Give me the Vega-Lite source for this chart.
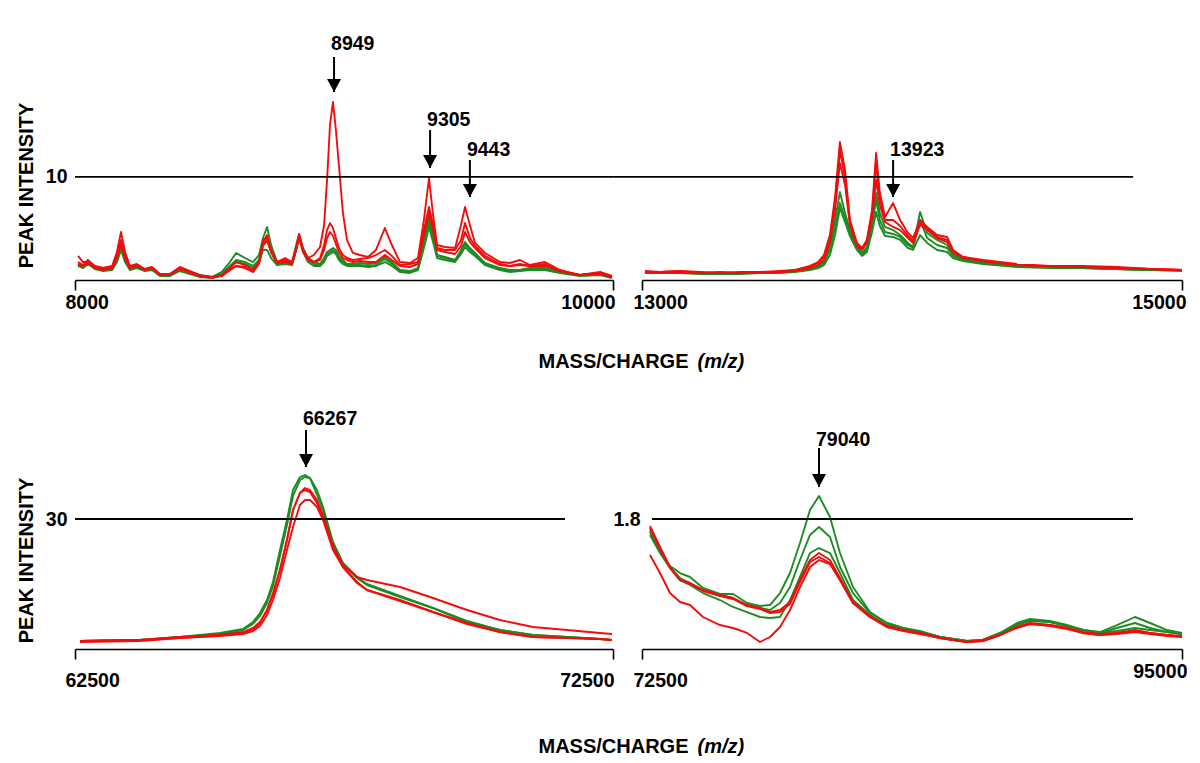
{
"$schema":"https://vega.github.io/schema/vega-lite/v6.json",
"background":"white",
"padding":{"left":16,"top":22,"right":0,"bottom":0},
"autosize":{"type":"pad"},
"columns":2,
"bounds":"flush",
"spacing":{"row":109,"column":29},
"config":{
 "view":{"stroke":null},
 "line":{"strokeWidth":1.9,"strokeJoin":"round"},
 "axis":{"domainColor":"black","domainWidth":1.6,"tickColor":"black","tickWidth":1.6,"labelFont":"Liberation Sans","labelFontWeight":"bold","labelFontSize":19.5,"labelColor":"black","titleFont":"Liberation Sans","titleFontWeight":"bold","titleFontSize":20,"titleColor":"black","grid":false,"labelOverlap":false,"labelFlush":false,"labelBound":false}
},
"datasets":{
"tl":[
{"mz":8011,"g1":1.55,"g2":1.36,"g3":1.45,"r1":1.74,"r2":2.33,"r3":1.45},
{"mz":8030,"g1":1.36,"g2":1.16,"g3":1.26,"r1":1.45,"r2":1.74,"r3":1.36},
{"mz":8048,"g1":1.74,"g2":1.55,"g3":1.65,"r1":1.94,"r2":1.74,"r3":1.65},
{"mz":8074,"g1":1.16,"g2":1.07,"g3":1.16,"r1":1.36,"r2":1.26,"r3":1.16},
{"mz":8104,"g1":0.97,"g2":0.87,"g3":0.97,"r1":1.16,"r2":1.07,"r3":0.97},
{"mz":8138,"g1":1.16,"g2":0.97,"g3":1.07,"r1":1.36,"r2":1.16,"r3":1.16},
{"mz":8156,"g1":2.13,"g2":1.74,"g3":1.94,"r1":2.71,"r2":2.33,"r3":2.13},
{"mz":8171,"g1":3.29,"g2":2.91,"g3":3.10,"r1":4.65,"r2":3.88,"r3":3.49},
{"mz":8186,"g1":2.13,"g2":1.74,"g3":1.94,"r1":2.71,"r2":2.33,"r3":2.13},
{"mz":8204,"g1":1.16,"g2":0.97,"g3":1.07,"r1":1.36,"r2":1.26,"r3":1.16},
{"mz":8230,"g1":1.36,"g2":1.16,"g3":1.26,"r1":1.55,"r2":1.45,"r3":1.36},
{"mz":8260,"g1":0.97,"g2":0.87,"g3":0.97,"r1":1.07,"r2":0.97,"r3":0.97},
{"mz":8286,"g1":1.16,"g2":0.97,"g3":1.07,"r1":1.26,"r2":1.16,"r3":1.16},
{"mz":8316,"g1":0.48,"g2":0.39,"g3":0.48,"r1":0.58,"r2":0.48,"r3":0.48},
{"mz":8353,"g1":0.58,"g2":0.39,"g3":0.48,"r1":0.58,"r2":0.48,"r3":0.58},
{"mz":8390,"g1":1.16,"g2":0.87,"g3":0.97,"r1":1.26,"r2":1.07,"r3":1.07},
{"mz":8428,"g1":0.78,"g2":0.58,"g3":0.68,"r1":0.87,"r2":0.68,"r3":0.78},
{"mz":8465,"g1":0.48,"g2":0.29,"g3":0.39,"r1":0.48,"r2":0.39,"r3":0.39},
{"mz":8509,"g1":0.29,"g2":0.19,"g3":0.29,"r1":0.19,"r2":0.29,"r3":0.29},
{"mz":8546,"g1":0.78,"g2":0.48,"g3":0.58,"r1":0.48,"r2":0.39,"r3":0.39},
{"mz":8576,"g1":1.74,"g2":1.16,"g3":1.36,"r1":1.16,"r2":0.97,"r3":0.97},
{"mz":8599,"g1":2.62,"g2":1.74,"g3":1.94,"r1":1.74,"r2":1.36,"r3":1.36},
{"mz":8632,"g1":2.13,"g2":1.55,"g3":1.74,"r1":1.45,"r2":1.16,"r3":1.26},
{"mz":8662,"g1":1.74,"g2":1.16,"g3":1.36,"r1":0.97,"r2":0.78,"r3":0.78},
{"mz":8684,"g1":2.42,"g2":1.74,"g3":1.94,"r1":1.74,"r2":1.55,"r3":1.74},
{"mz":8699,"g1":4.07,"g2":2.91,"g3":3.49,"r1":3.68,"r2":3.29,"r3":3.88},
{"mz":8714,"g1":5.14,"g2":2.91,"g3":3.88,"r1":4.36,"r2":3.88,"r3":4.07},
{"mz":8729,"g1":3.39,"g2":2.13,"g3":2.71,"r1":2.91,"r2":2.71,"r3":2.71},
{"mz":8751,"g1":1.74,"g2":1.45,"g3":1.55,"r1":1.74,"r2":1.74,"r3":1.65},
{"mz":8781,"g1":1.74,"g2":1.55,"g3":1.65,"r1":2.13,"r2":1.94,"r3":1.74},
{"mz":8807,"g1":1.74,"g2":1.45,"g3":1.65,"r1":1.74,"r2":1.65,"r3":1.55},
{"mz":8822,"g1":3.39,"g2":2.91,"g3":3.10,"r1":3.10,"r2":2.91,"r3":2.91},
{"mz":8833,"g1":4.46,"g2":4.07,"g3":4.26,"r1":4.46,"r2":4.26,"r3":4.07},
{"mz":8848,"g1":3.10,"g2":2.71,"g3":2.91,"r1":2.91,"r2":2.91,"r3":2.71},
{"mz":8866,"g1":2.13,"g2":1.74,"g3":1.94,"r1":2.13,"r2":2.13,"r3":1.94},
{"mz":8888,"g1":1.74,"g2":1.36,"g3":1.55,"r1":2.42,"r2":1.74,"r3":1.74},
{"mz":8911,"g1":1.55,"g2":1.36,"g3":1.45,"r1":3.20,"r2":2.13,"r3":1.94},
{"mz":8926,"g1":2.13,"g2":1.74,"g3":1.94,"r1":5.33,"r2":3.39,"r3":2.91},
{"mz":8937,"g1":2.71,"g2":2.33,"g3":2.52,"r1":9.69,"r2":4.84,"r3":4.07},
{"mz":8948,"g1":2.91,"g2":2.52,"g3":2.71,"r1":15.02,"r2":5.52,"r3":4.65},
{"mz":8959,"g1":3.10,"g2":2.71,"g3":2.91,"r1":17.25,"r2":5.04,"r3":4.26},
{"mz":8970,"g1":2.91,"g2":2.52,"g3":2.71,"r1":14.53,"r2":4.07,"r3":3.49},
{"mz":8981,"g1":2.33,"g2":1.94,"g3":2.13,"r1":11.14,"r2":3.10,"r3":2.71},
{"mz":8996,"g1":1.94,"g2":1.55,"g3":1.74,"r1":6.49,"r2":2.42,"r3":2.13},
{"mz":9011,"g1":1.55,"g2":1.36,"g3":1.45,"r1":3.88,"r2":2.13,"r3":1.94},
{"mz":9033,"g1":1.55,"g2":1.36,"g3":1.45,"r1":2.62,"r2":1.94,"r3":1.74},
{"mz":9059,"g1":1.65,"g2":1.36,"g3":1.45,"r1":2.42,"r2":2.03,"r3":1.84},
{"mz":9089,"g1":1.55,"g2":1.26,"g3":1.36,"r1":2.23,"r2":2.13,"r3":1.74},
{"mz":9119,"g1":1.65,"g2":1.36,"g3":1.45,"r1":2.91,"r2":2.42,"r3":1.74},
{"mz":9152,"g1":2.23,"g2":1.74,"g3":2.03,"r1":5.04,"r2":2.91,"r3":2.42},
{"mz":9178,"g1":1.74,"g2":1.36,"g3":1.55,"r1":3.39,"r2":2.33,"r3":1.94},
{"mz":9208,"g1":0.97,"g2":0.78,"g3":0.87,"r1":1.74,"r2":1.45,"r3":1.36},
{"mz":9245,"g1":0.87,"g2":0.68,"g3":0.78,"r1":1.65,"r2":1.55,"r3":1.26},
{"mz":9275,"g1":1.16,"g2":0.97,"g3":1.07,"r1":2.13,"r2":1.74,"r3":1.55},
{"mz":9297,"g1":3.88,"g2":3.10,"g3":3.49,"r1":5.81,"r2":4.84,"r3":4.36},
{"mz":9316,"g1":6.10,"g2":5.14,"g3":5.62,"r1":9.88,"r2":7.07,"r3":6.49},
{"mz":9331,"g1":4.36,"g2":3.68,"g3":4.07,"r1":6.30,"r2":5.33,"r3":4.84},
{"mz":9346,"g1":2.42,"g2":2.13,"g3":2.33,"r1":3.39,"r2":3.10,"r3":2.91},
{"mz":9375,"g1":2.23,"g2":1.94,"g3":2.13,"r1":3.20,"r2":2.91,"r3":2.71},
{"mz":9413,"g1":1.94,"g2":1.74,"g3":1.84,"r1":3.10,"r2":2.91,"r3":2.52},
{"mz":9435,"g1":2.91,"g2":2.52,"g3":2.71,"r1":5.33,"r2":3.88,"r3":3.29},
{"mz":9450,"g1":3.68,"g2":3.20,"g3":3.49,"r1":7.07,"r2":5.52,"r3":4.65},
{"mz":9468,"g1":3.10,"g2":2.71,"g3":2.91,"r1":5.33,"r2":4.07,"r3":3.68},
{"mz":9487,"g1":2.62,"g2":2.33,"g3":2.52,"r1":3.59,"r2":3.29,"r3":3.10},
{"mz":9524,"g1":1.65,"g2":1.45,"g3":1.55,"r1":2.62,"r2":2.33,"r3":2.13},
{"mz":9580,"g1":1.16,"g2":0.97,"g3":1.07,"r1":1.74,"r2":1.55,"r3":1.45},
{"mz":9617,"g1":0.97,"g2":0.78,"g3":0.87,"r1":1.65,"r2":1.36,"r3":1.36},
{"mz":9654,"g1":0.97,"g2":0.87,"g3":0.97,"r1":1.94,"r2":1.55,"r3":1.45},
{"mz":9691,"g1":1.16,"g2":0.97,"g3":1.07,"r1":1.45,"r2":1.36,"r3":1.36},
{"mz":9747,"g1":1.16,"g2":0.97,"g3":1.07,"r1":1.74,"r2":1.55,"r3":1.36},
{"mz":9803,"g1":0.78,"g2":0.68,"g3":0.78,"r1":0.97,"r2":0.87,"r3":0.87},
{"mz":9877,"g1":0.48,"g2":0.39,"g3":0.48,"r1":0.48,"r2":0.48,"r3":0.48},
{"mz":9952,"g1":0.68,"g2":0.48,"g3":0.58,"r1":0.78,"r2":0.58,"r3":0.68},
{"mz":9996,"g1":0.29,"g2":0.19,"g3":0.29,"r1":0.39,"r2":0.29,"r3":0.29}
],
"tr":[
{"mz":13011,"g1":0.78,"g2":0.68,"g3":0.78,"r1":0.87,"r2":0.78,"r3":0.78},
{"mz":13067,"g1":0.68,"g2":0.68,"g3":0.68,"r1":0.78,"r2":0.68,"r3":0.78},
{"mz":13141,"g1":0.78,"g2":0.68,"g3":0.78,"r1":0.87,"r2":0.78,"r3":0.87},
{"mz":13215,"g1":0.68,"g2":0.58,"g3":0.68,"r1":0.78,"r2":0.68,"r3":0.68},
{"mz":13289,"g1":0.68,"g2":0.58,"g3":0.68,"r1":0.68,"r2":0.68,"r3":0.78},
{"mz":13363,"g1":0.68,"g2":0.58,"g3":0.68,"r1":0.78,"r2":0.68,"r3":0.68},
{"mz":13437,"g1":0.68,"g2":0.68,"g3":0.68,"r1":0.78,"r2":0.78,"r3":0.68},
{"mz":13511,"g1":0.78,"g2":0.68,"g3":0.78,"r1":0.87,"r2":0.78,"r3":0.78},
{"mz":13567,"g1":0.87,"g2":0.78,"g3":0.87,"r1":0.97,"r2":0.97,"r3":0.87},
{"mz":13622,"g1":1.07,"g2":0.97,"g3":1.07,"r1":1.36,"r2":1.26,"r3":1.16},
{"mz":13652,"g1":1.36,"g2":1.16,"g3":1.26,"r1":1.74,"r2":1.65,"r3":1.45},
{"mz":13674,"g1":1.74,"g2":1.45,"g3":1.65,"r1":2.42,"r2":2.23,"r3":1.94},
{"mz":13696,"g1":3.20,"g2":2.42,"g3":2.91,"r1":4.36,"r2":3.88,"r3":3.68},
{"mz":13715,"g1":5.81,"g2":4.36,"g3":5.04,"r1":8.04,"r2":7.27,"r3":6.78},
{"mz":13733,"g1":8.53,"g2":6.98,"g3":7.46,"r1":13.37,"r2":12.60,"r3":11.34},
{"mz":13752,"g1":6.49,"g2":5.62,"g3":6.01,"r1":10.66,"r2":9.88,"r3":9.21},
{"mz":13770,"g1":4.84,"g2":4.26,"g3":4.55,"r1":5.81,"r2":5.62,"r3":5.33},
{"mz":13796,"g1":3.20,"g2":2.91,"g3":3.10,"r1":3.59,"r2":3.49,"r3":3.29},
{"mz":13815,"g1":2.62,"g2":2.33,"g3":2.42,"r1":3.10,"r2":3.00,"r3":2.91},
{"mz":13833,"g1":3.20,"g2":2.71,"g3":3.00,"r1":3.88,"r2":3.78,"r3":3.59},
{"mz":13852,"g1":5.81,"g2":4.65,"g3":5.23,"r1":6.78,"r2":6.40,"r3":6.01},
{"mz":13867,"g1":8.43,"g2":6.59,"g3":7.75,"r1":12.31,"r2":11.34,"r3":9.69},
{"mz":13881,"g1":6.49,"g2":5.23,"g3":5.81,"r1":8.43,"r2":7.95,"r3":7.27},
{"mz":13900,"g1":5.14,"g2":4.26,"g3":4.65,"r1":6.10,"r2":5.81,"r3":5.62},
{"mz":13930,"g1":4.84,"g2":4.17,"g3":4.46,"r1":7.46,"r2":5.81,"r3":5.14},
{"mz":13956,"g1":4.36,"g2":3.88,"g3":4.17,"r1":5.81,"r2":5.23,"r3":4.84},
{"mz":13985,"g1":3.59,"g2":3.10,"g3":3.39,"r1":4.55,"r2":4.26,"r3":4.07},
{"mz":14004,"g1":3.20,"g2":2.91,"g3":3.10,"r1":4.07,"r2":3.78,"r3":3.59},
{"mz":14030,"g1":6.59,"g2":4.36,"g3":5.81,"r1":5.81,"r2":5.52,"r3":5.33},
{"mz":14056,"g1":4.55,"g2":3.59,"g3":4.07,"r1":5.14,"r2":5.04,"r3":4.84},
{"mz":14093,"g1":3.88,"g2":2.91,"g3":3.39,"r1":4.36,"r2":4.17,"r3":4.07},
{"mz":14130,"g1":3.39,"g2":2.71,"g3":3.10,"r1":4.17,"r2":3.88,"r3":3.68},
{"mz":14152,"g1":2.52,"g2":2.13,"g3":2.33,"r1":2.91,"r2":2.71,"r3":2.71},
{"mz":14189,"g1":2.03,"g2":1.84,"g3":1.94,"r1":2.23,"r2":2.23,"r3":2.13},
{"mz":14263,"g1":1.74,"g2":1.55,"g3":1.65,"r1":1.94,"r2":1.84,"r3":1.84},
{"mz":14389,"g1":1.36,"g2":1.26,"g3":1.36,"r1":1.55,"r2":1.45,"r3":1.45},
{"mz":14511,"g1":1.26,"g2":1.16,"g3":1.26,"r1":1.36,"r2":1.36,"r3":1.36},
{"mz":14633,"g1":1.16,"g2":1.16,"g3":1.16,"r1":1.36,"r2":1.26,"r3":1.26},
{"mz":14759,"g1":1.07,"g2":1.07,"g3":1.07,"r1":1.26,"r2":1.16,"r3":1.16},
{"mz":14881,"g1":0.97,"g2":0.97,"g3":0.97,"r1":1.07,"r2":1.07,"r3":1.07},
{"mz":15000,"g1":0.97,"g2":0.87,"g3":0.97,"r1":0.97,"r2":0.97,"r3":0.97}
],
"bl":[
{"mz":62593,"g1":1.85,"g2":1.85,"r1":1.85,"r2":1.85,"r3":1.62},
{"mz":63708,"g1":2.08,"g2":2.08,"r1":2.08,"r2":2.08,"r3":1.85},
{"mz":64452,"g1":2.77,"g2":2.77,"r1":2.77,"r2":2.54,"r3":2.54},
{"mz":65195,"g1":3.69,"g2":3.46,"r1":3.23,"r2":3.23,"r3":3.0},
{"mz":65623,"g1":4.62,"g2":4.38,"r1":3.92,"r2":3.69,"r3":3.46},
{"mz":65808,"g1":6.23,"g2":5.77,"r1":4.85,"r2":4.38,"r3":4.15},
{"mz":65939,"g1":8.31,"g2":7.62,"r1":6.23,"r2":6.0,"r3":5.31},
{"mz":66069,"g1":11.31,"g2":10.62,"r1":9.0,"r2":9.0,"r3":7.85},
{"mz":66180,"g1":15.46,"g2":14.54,"r1":12.46,"r2":12.92,"r3":11.31},
{"mz":66310,"g1":22.85,"g2":21.46,"r1":18.23,"r2":18.23,"r3":16.38},
{"mz":66440,"g1":29.77,"g2":28.62,"r1":25.15,"r2":25.15,"r3":22.85},
{"mz":66552,"g1":36.69,"g2":35.31,"r1":32.08,"r2":32.08,"r3":28.15},
{"mz":66682,"g1":39.69,"g2":39.0,"r1":36.0,"r2":36.0,"r3":33.23},
{"mz":66775,"g1":40.15,"g2":39.69,"r1":37.15,"r2":36.69,"r3":34.38},
{"mz":66868,"g1":39.46,"g2":39.46,"r1":36.69,"r2":36.23,"r3":34.38},
{"mz":66998,"g1":35.54,"g2":36.69,"r1":34.38,"r2":33.69,"r3":32.77},
{"mz":67110,"g1":32.08,"g2":32.77,"r1":30.92,"r2":30.46,"r3":29.77},
{"mz":67295,"g1":24.0,"g2":24.69,"r1":23.77,"r2":23.31,"r3":22.85},
{"mz":67481,"g1":19.38,"g2":19.85,"r1":19.38,"r2":18.92,"r3":18.92},
{"mz":67742,"g1":16.38,"g2":16.62,"r1":16.62,"r2":15.46,"r3":15.23},
{"mz":67927,"g1":14.77,"g2":15.0,"r1":15.92,"r2":13.62,"r3":13.62},
{"mz":68541,"g1":12.0,"g2":12.23,"r1":14.31,"r2":11.31,"r3":11.08},
{"mz":69154,"g1":9.46,"g2":9.46,"r1":11.77,"r2":8.54,"r3":8.54},
{"mz":69786,"g1":6.23,"g2":6.46,"r1":9.0,"r2":6.0,"r3":5.77},
{"mz":70399,"g1":4.38,"g2":4.38,"r1":6.69,"r2":3.92,"r3":3.92},
{"mz":71013,"g1":3.23,"g2":3.23,"r1":5.08,"r2":2.77,"r3":2.77},
{"mz":71645,"g1":2.77,"g2":2.77,"r1":4.38,"r2":2.54,"r3":2.54},
{"mz":72258,"g1":2.31,"g2":2.31,"r1":3.69,"r2":2.31,"r3":2.31},
{"mz":72481,"g1":2.08,"g2":2.08,"r1":3.46,"r2":2.08,"r3":2.08}
],
"br":[
{"mz":72833,"g1":1.620,"g2":1.648,"g3":1.579,"r1":1.703,"r2":1.675,"r3":1.302},
{"mz":73250,"g1":1.343,"g2":1.371,"g3":1.329,"r1":1.412,"r2":1.385,"r3":1.052},
{"mz":73667,"g1":1.149,"g2":1.135,"g3":1.122,"r1":1.135,"r2":1.122,"r3":0.775},
{"mz":74083,"g1":1.052,"g2":0.983,"g3":0.955,"r1":0.955,"r2":0.955,"r3":0.651},
{"mz":74500,"g1":0.997,"g2":0.914,"g3":0.886,"r1":0.914,"r2":0.900,"r3":0.609},
{"mz":75042,"g1":0.845,"g2":0.817,"g3":0.775,"r1":0.817,"r2":0.803,"r3":0.443},
{"mz":75750,"g1":0.762,"g2":0.748,"g3":0.678,"r1":0.748,"r2":0.734,"r3":0.332},
{"mz":76292,"g1":0.762,"g2":0.706,"g3":0.582,"r1":0.706,"r2":0.692,"r3":0.291},
{"mz":76875,"g1":0.637,"g2":0.609,"g3":0.512,"r1":0.609,"r2":0.595,"r3":0.222},
{"mz":77417,"g1":0.595,"g2":0.568,"g3":0.443,"r1":0.568,"r2":0.554,"r3":0.097},
{"mz":77833,"g1":0.609,"g2":0.540,"g3":0.429,"r1":0.512,"r2":0.498,"r3":0.166},
{"mz":78250,"g1":0.775,"g2":0.637,"g3":0.443,"r1":0.540,"r2":0.512,"r3":0.305},
{"mz":78667,"g1":1.052,"g2":0.858,"g3":0.678,"r1":0.651,"r2":0.623,"r3":0.540},
{"mz":79083,"g1":1.468,"g2":1.232,"g3":0.997,"r1":0.955,"r2":0.928,"r3":0.858},
{"mz":79500,"g1":1.925,"g2":1.579,"g3":1.329,"r1":1.232,"r2":1.205,"r3":1.135},
{"mz":79875,"g1":2.118,"g2":1.689,"g3":1.398,"r1":1.329,"r2":1.274,"r3":1.232},
{"mz":80333,"g1":1.828,"g2":1.551,"g3":1.329,"r1":1.232,"r2":1.191,"r3":1.177},
{"mz":80750,"g1":1.329,"g2":1.135,"g3":1.052,"r1":0.983,"r2":0.955,"r3":0.955},
{"mz":81292,"g1":0.858,"g2":0.775,"g3":0.678,"r1":0.651,"r2":0.637,"r3":0.637},
{"mz":82000,"g1":0.512,"g2":0.498,"g3":0.471,"r1":0.457,"r2":0.443,"r3":0.443},
{"mz":82708,"g1":0.360,"g2":0.360,"g3":0.332,"r1":0.318,"r2":0.305,"r3":0.305},
{"mz":83375,"g1":0.291,"g2":0.291,"g3":0.277,"r1":0.263,"r2":0.263,"r3":0.249},
{"mz":84083,"g1":0.249,"g2":0.235,"g3":0.235,"r1":0.222,"r2":0.222,"r3":0.208},
{"mz":84917,"g1":0.166,"g2":0.166,"g3":0.166,"r1":0.152,"r2":0.152,"r3":0.152},
{"mz":86042,"g1":0.111,"g2":0.111,"g3":0.111,"r1":0.097,"r2":0.097,"r3":0.097},
{"mz":86708,"g1":0.125,"g2":0.125,"g3":0.125,"r1":0.125,"r2":0.111,"r3":0.111},
{"mz":87417,"g1":0.222,"g2":0.222,"g3":0.208,"r1":0.194,"r2":0.194,"r3":0.194},
{"mz":88125,"g1":0.360,"g2":0.346,"g3":0.332,"r1":0.305,"r2":0.305,"r3":0.291},
{"mz":88667,"g1":0.415,"g2":0.402,"g3":0.388,"r1":0.360,"r2":0.346,"r3":0.346},
{"mz":89500,"g1":0.388,"g2":0.374,"g3":0.374,"r1":0.332,"r2":0.332,"r3":0.318},
{"mz":90208,"g1":0.332,"g2":0.318,"g3":0.318,"r1":0.291,"r2":0.291,"r3":0.277},
{"mz":90875,"g1":0.263,"g2":0.263,"g3":0.263,"r1":0.235,"r2":0.222,"r3":0.222},
{"mz":91583,"g1":0.235,"g2":0.222,"g3":0.222,"r1":0.208,"r2":0.194,"r3":0.194},
{"mz":92292,"g1":0.332,"g2":0.291,"g3":0.249,"r1":0.222,"r2":0.222,"r3":0.208},
{"mz":93042,"g1":0.443,"g2":0.360,"g3":0.291,"r1":0.263,"r2":0.249,"r3":0.235},
{"mz":93667,"g1":0.360,"g2":0.291,"g3":0.263,"r1":0.222,"r2":0.222,"r3":0.208},
{"mz":94375,"g1":0.263,"g2":0.235,"g3":0.235,"r1":0.194,"r2":0.194,"r3":0.180},
{"mz":95000,"g1":0.222,"g2":0.208,"g3":0.208,"r1":0.180,"r2":0.166,"r3":0.166}
],
"ref_tl":[{"x1":8000,"x2":10000,"y":10}],
"ref_tr":[{"x1":12893,"x2":14819,"y":10}],
"ref_bl":[{"x1":62500,"x2":71608,"y":30}],
"ref_br":[{"x1":72917,"x2":92958,"y":1.8}],
"ann_tl":[{"mz":8963,"label":"8949","ty":22.87,"ay":21.61,"tip":18.22},{"mz":9320,"label":"9305","ty":15.5,"ay":14.53,"tip":10.85},{"mz":9468,"label":"9443","ty":12.6,"ay":11.63,"tip":8.04}],
"ann_tr":[{"mz":13930,"label":"13923","ty":12.6,"ay":11.63,"tip":8.04}],
"ann_bl":[{"mz":66794,"label":"66267","ty":53.08,"ay":50.54,"tip":42.0}],
"ann_br":[{"mz":79875,"label":"79040","ty":2.894,"ay":2.783,"tip":2.243}]
},
"concat":[
 {"width":538,"height":258,"layer":[
  {"data":{"name":"tl"},"transform":[{"fold":["g1","g2","g3"],"as":["trace","v"]}],"mark":{"type":"line","color":"#1f8b24"},
   "encoding":{"x":{"field":"mz","type":"quantitative","scale":{"domain":[8000,10000],"nice":false,"zero":false},
     "axis":{"values":[8000,10000],"format":"d","tickSize":10,"labelPadding":3.5,"title":"MASS/CHARGE","titleX":613,"titleY":87,"titleAlign":"right","titleBaseline":"alphabetic","titleAngle":0,
       "labelAlign":{"condition":{"test":"datum.index < 0.5","value":"left"},"value":"right"},
       "labelOffset":{"condition":{"test":"datum.index < 0.5","value":-10},"value":2}}},
    "y":{"field":"v","type":"quantitative","scale":{"domain":[0,25],"nice":false,"zero":false},
     "axis":{"values":[10],"format":"d","domain":false,"ticks":false,"tickSize":0,"labelPadding":8,"title":"PEAK INTENSITY","titleX":-43,"titleY":163,"titleAngle":270,"titleAlign":"center","titleBaseline":"alphabetic"}},
    "detail":{"field":"trace"}}},
  {"data":{"name":"tl"},"transform":[{"fold":["r1","r2","r3"],"as":["trace","v"]}],"mark":{"type":"line","color":"#f20d0d"},
   "encoding":{"x":{"field":"mz","type":"quantitative"},"y":{"field":"v","type":"quantitative"},"detail":{"field":"trace"}}},
  {"data":{"name":"ref_tl"},"mark":{"type":"rule","color":"black","strokeWidth":1.8},
   "encoding":{"x":{"field":"x1","type":"quantitative"},"x2":{"field":"x2"},"y":{"field":"y","type":"quantitative"}}},
  {"data":{"name":"ann_tl"},"mark":{"type":"rule","color":"black","strokeWidth":2},
   "encoding":{"x":{"field":"mz","type":"quantitative"},"y":{"field":"ay","type":"quantitative"},"y2":{"field":"tip"}}},
  {"data":{"name":"ann_tl"},"mark":{"type":"point","shape":"M-1,-1.86L1,-1.86L0,0Z","size":196,"filled":true,"color":"black","opacity":1,"strokeWidth":0},
   "encoding":{"x":{"field":"mz","type":"quantitative"},"y":{"field":"tip","type":"quantitative"}}},
  {"data":{"name":"ann_tl"},"mark":{"type":"text","align":"left","baseline":"middle","dx":-3,"font":"Liberation Sans","fontWeight":"bold","fontSize":19.5,"color":"black"},
   "encoding":{"x":{"field":"mz","type":"quantitative"},"y":{"field":"ty","type":"quantitative"},"text":{"field":"label"}}}
 ]},
 {"width":540,"height":258,"layer":[
  {"data":{"name":"tr"},"transform":[{"fold":["g1","g2","g3"],"as":["trace","v"]}],"mark":{"type":"line","color":"#1f8b24"},
   "encoding":{"x":{"field":"mz","type":"quantitative","scale":{"domain":[13000,15000],"nice":false,"zero":false},
     "axis":{"values":[13000,15000],"format":"d","tickSize":10,"labelPadding":3.5,"title":"(m/z)","titleFontStyle":"italic","titleX":55,"titleY":87,"titleAlign":"left","titleBaseline":"alphabetic","titleAngle":0,
       "labelAlign":{"condition":{"test":"datum.index < 0.5","value":"left"},"value":"right"},
       "labelOffset":{"condition":{"test":"datum.index < 0.5","value":-9},"value":4}}},
    "y":{"field":"v","type":"quantitative","scale":{"domain":[0,25],"nice":false,"zero":false},"axis":null},
    "detail":{"field":"trace"}}},
  {"data":{"name":"tr"},"transform":[{"fold":["r1","r2","r3"],"as":["trace","v"]}],"mark":{"type":"line","color":"#f20d0d"},
   "encoding":{"x":{"field":"mz","type":"quantitative"},"y":{"field":"v","type":"quantitative","axis":null},"detail":{"field":"trace"}}},
  {"data":{"name":"ref_tr"},"mark":{"type":"rule","color":"black","strokeWidth":1.8},
   "encoding":{"x":{"field":"x1","type":"quantitative"},"x2":{"field":"x2"},"y":{"field":"y","type":"quantitative","axis":null}}},
  {"data":{"name":"ann_tr"},"mark":{"type":"rule","color":"black","strokeWidth":2},
   "encoding":{"x":{"field":"mz","type":"quantitative"},"y":{"field":"ay","type":"quantitative","axis":null},"y2":{"field":"tip"}}},
  {"data":{"name":"ann_tr"},"mark":{"type":"point","shape":"M-1,-1.86L1,-1.86L0,0Z","size":196,"filled":true,"color":"black","opacity":1,"strokeWidth":0},
   "encoding":{"x":{"field":"mz","type":"quantitative"},"y":{"field":"tip","type":"quantitative","axis":null}}},
  {"data":{"name":"ann_tr"},"mark":{"type":"text","align":"left","baseline":"middle","dx":-3,"font":"Liberation Sans","fontWeight":"bold","fontSize":19.5,"color":"black"},
   "encoding":{"x":{"field":"mz","type":"quantitative"},"y":{"field":"ty","type":"quantitative","axis":null},"text":{"field":"label"}}}
 ]},
 {"width":538,"height":260,"layer":[
  {"data":{"name":"bl"},"transform":[{"fold":["g1","g2"],"as":["trace","v"]}],"mark":{"type":"line","color":"#1f8b24"},
   "encoding":{"x":{"field":"mz","type":"quantitative","scale":{"domain":[62500,72500],"nice":false,"zero":false},
     "axis":{"values":[62500,72500],"format":"d","tickSize":10,"labelPadding":12,"title":"MASS/CHARGE","titleX":613,"titleY":103,"titleAlign":"right","titleBaseline":"alphabetic","titleAngle":0,
       "labelAlign":{"condition":{"test":"datum.index < 0.5","value":"left"},"value":"right"},
       "labelOffset":{"condition":{"test":"datum.index < 0.5","value":-10},"value":1}}},
    "y":{"field":"v","type":"quantitative","scale":{"domain":[0,60],"nice":false,"zero":false},
     "axis":{"values":[30],"format":"d","domain":false,"ticks":false,"tickSize":0,"labelPadding":8,"title":"PEAK INTENSITY","titleX":-43,"titleY":171,"titleAngle":270,"titleAlign":"center","titleBaseline":"alphabetic"}},
    "detail":{"field":"trace"}}},
  {"data":{"name":"bl"},"transform":[{"fold":["r1","r2","r3"],"as":["trace","v"]}],"mark":{"type":"line","color":"#f20d0d"},
   "encoding":{"x":{"field":"mz","type":"quantitative"},"y":{"field":"v","type":"quantitative"},"detail":{"field":"trace"}}},
  {"data":{"name":"ref_bl"},"mark":{"type":"rule","color":"black","strokeWidth":1.8},
   "encoding":{"x":{"field":"x1","type":"quantitative"},"x2":{"field":"x2"},"y":{"field":"y","type":"quantitative"}}},
  {"data":{"name":"ann_bl"},"mark":{"type":"rule","color":"black","strokeWidth":2},
   "encoding":{"x":{"field":"mz","type":"quantitative"},"y":{"field":"ay","type":"quantitative"},"y2":{"field":"tip"}}},
  {"data":{"name":"ann_bl"},"mark":{"type":"point","shape":"M-1,-1.86L1,-1.86L0,0Z","size":196,"filled":true,"color":"black","opacity":1,"strokeWidth":0},
   "encoding":{"x":{"field":"mz","type":"quantitative"},"y":{"field":"tip","type":"quantitative"}}},
  {"data":{"name":"ann_bl"},"mark":{"type":"text","align":"left","baseline":"middle","dx":-3,"font":"Liberation Sans","fontWeight":"bold","fontSize":19.5,"color":"black"},
   "encoding":{"x":{"field":"mz","type":"quantitative"},"y":{"field":"ty","type":"quantitative"},"text":{"field":"label"}}}
 ]},
 {"width":540,"height":260,"layer":[
  {"data":{"name":"br"},"transform":[{"fold":["g1","g2","g3"],"as":["trace","v"]}],"mark":{"type":"line","color":"#1f8b24"},
   "encoding":{"x":{"field":"mz","type":"quantitative","scale":{"domain":[72500,95000],"nice":false,"zero":false},
     "axis":{"values":[72500,95000],"format":"d","tickSize":10,"title":"(m/z)","titleFontStyle":"italic","titleX":55,"titleY":103,"titleAlign":"left","titleBaseline":"alphabetic","titleAngle":0,
       "labelPadding":{"condition":{"test":"datum.index < 0.5","value":12},"value":3},
       "labelAlign":{"condition":{"test":"datum.index < 0.5","value":"left"},"value":"right"},
       "labelOffset":{"condition":{"test":"datum.index < 0.5","value":-9},"value":5}}},
    "y":{"field":"v","type":"quantitative","scale":{"domain":[0,3.6],"nice":false,"zero":false},
     "axis":{"values":[1.8],"format":".1f","domain":false,"ticks":false,"tickSize":0,"labelPadding":2,"title":null}},
    "detail":{"field":"trace"}}},
  {"data":{"name":"br"},"transform":[{"fold":["r1","r2","r3"],"as":["trace","v"]}],"mark":{"type":"line","color":"#f20d0d"},
   "encoding":{"x":{"field":"mz","type":"quantitative"},"y":{"field":"v","type":"quantitative"},"detail":{"field":"trace"}}},
  {"data":{"name":"ref_br"},"mark":{"type":"rule","color":"black","strokeWidth":1.8},
   "encoding":{"x":{"field":"x1","type":"quantitative"},"x2":{"field":"x2"},"y":{"field":"y","type":"quantitative"}}},
  {"data":{"name":"ann_br"},"mark":{"type":"rule","color":"black","strokeWidth":2},
   "encoding":{"x":{"field":"mz","type":"quantitative"},"y":{"field":"ay","type":"quantitative"},"y2":{"field":"tip"}}},
  {"data":{"name":"ann_br"},"mark":{"type":"point","shape":"M-1,-1.86L1,-1.86L0,0Z","size":196,"filled":true,"color":"black","opacity":1,"strokeWidth":0},
   "encoding":{"x":{"field":"mz","type":"quantitative"},"y":{"field":"tip","type":"quantitative"}}},
  {"data":{"name":"ann_br"},"mark":{"type":"text","align":"left","baseline":"middle","dx":-3,"font":"Liberation Sans","fontWeight":"bold","fontSize":19.5,"color":"black"},
   "encoding":{"x":{"field":"mz","type":"quantitative"},"y":{"field":"ty","type":"quantitative"},"text":{"field":"label"}}}
 ]}
]
}
